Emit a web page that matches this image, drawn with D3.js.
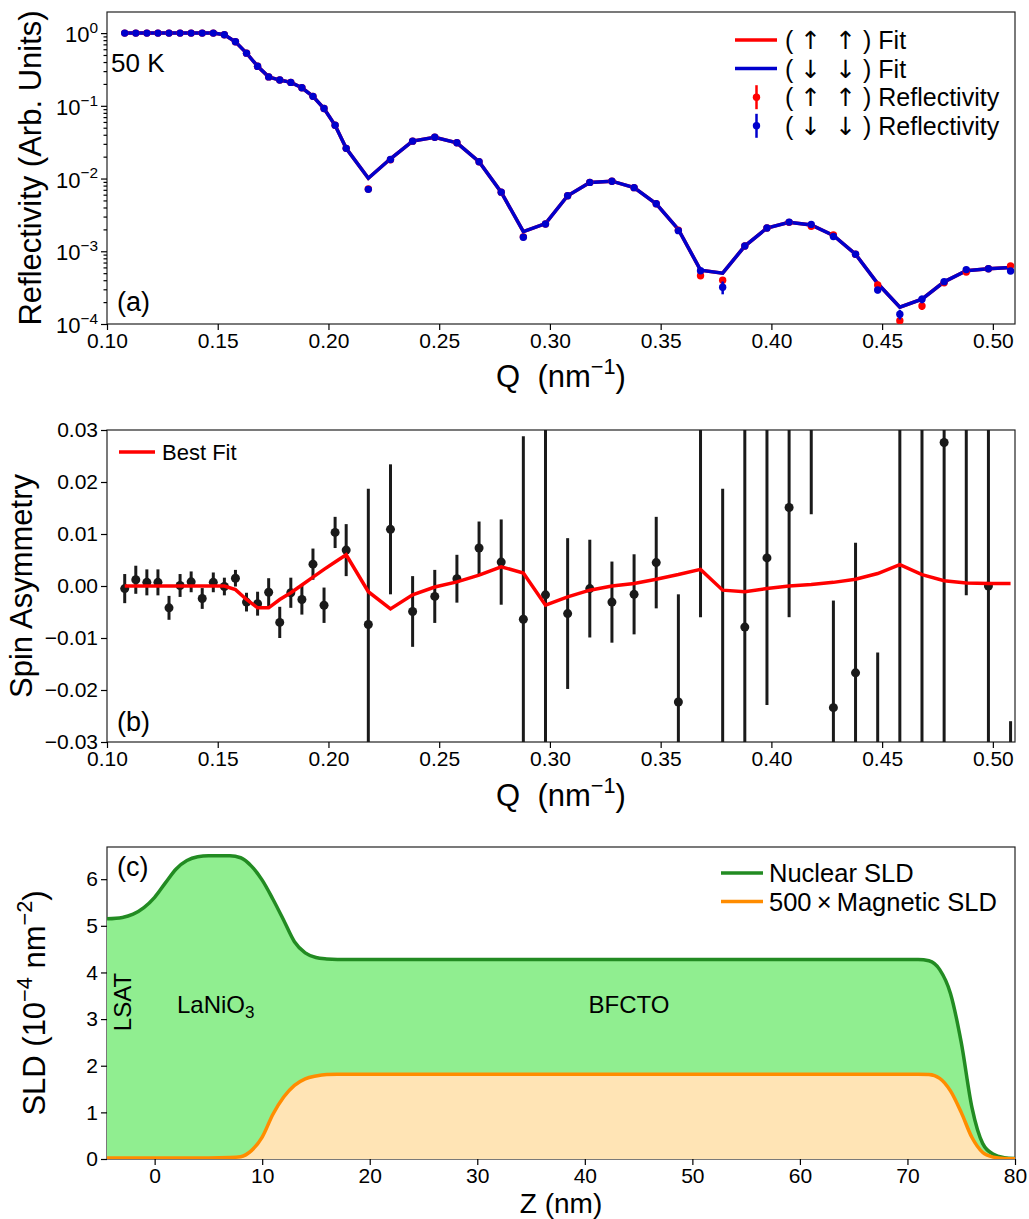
<!DOCTYPE html>
<html>
<head>
<meta charset="utf-8">
<script src="https://cdn.jsdelivr.net/npm/d3@7"></script>
<style>
body { margin: 0; background: #fff; }
text { font-family: "Liberation Sans", Arial, Helvetica, sans-serif; fill: #000; }
.arrow { font-family: "DejaVu Sans", sans-serif; }
</style>
</head>
<body>
<div id="container"></div>
<script>
/* DATA */
// Q grid (nm^-1), shared by panels (a) and (b)
const qVals = [0.108, 0.113, 0.118, 0.123, 0.128, 0.133, 0.138, 0.143, 0.148, 0.153,
  0.158, 0.163, 0.168, 0.173, 0.178, 0.183, 0.188, 0.193, 0.198, 0.203, 0.208,
  0.218, 0.228, 0.238, 0.248, 0.258, 0.268, 0.278, 0.288, 0.298, 0.308, 0.318,
  0.328, 0.338, 0.348, 0.358, 0.368, 0.378, 0.388, 0.398, 0.408, 0.418, 0.428,
  0.438, 0.448, 0.458, 0.468, 0.478, 0.488, 0.498, 0.508];

// (a) reflectivity, up-up (red) and down-down (blue)
const reflUp = [1.0, 1.0, 1.0, 1.0, 1.0, 1.0, 1.0, 1.0, 1.0, 0.95,
  0.76, 0.53, 0.35, 0.25, 0.226, 0.21, 0.177, 0.135, 0.092, 0.054, 0.026,
  0.0072, 0.0181, 0.0327, 0.037, 0.031, 0.017, 0.0065, 0.00158, 0.00237, 0.0058, 0.00885,
  0.0092, 0.0075, 0.0045, 0.00195, 0.00046, 0.0004, 0.00118, 0.00209, 0.0025, 0.0022, 0.00168,
  0.00091, 0.000343, 0.000111, 0.000177, 0.00037, 0.00052, 0.000575, 0.00063];
const reflDown = [1.0, 1.0, 1.0, 1.0, 1.0, 1.0, 1.0, 1.0, 1.0, 0.95,
  0.76, 0.53, 0.35, 0.25, 0.226, 0.21, 0.177, 0.135, 0.092, 0.054, 0.026,
  0.0071, 0.0183, 0.0327, 0.037, 0.031, 0.017, 0.0065, 0.00156, 0.00237, 0.0058, 0.00885,
  0.0092, 0.0075, 0.0045, 0.00192, 0.00054, 0.00032, 0.00118, 0.00209, 0.00252, 0.00234, 0.0016,
  0.00091, 0.000293, 0.000136, 0.000219, 0.000382, 0.00056, 0.000575, 0.000535];
// relative errors
const errUp = [0.01, 0.01, 0.01, 0.01, 0.01, 0.01, 0.01, 0.01, 0.01, 0.01,
  0.01, 0.01, 0.01, 0.01, 0.01, 0.01, 0.01, 0.01, 0.01, 0.01, 0.01,
  0.03, 0.02, 0.02, 0.02, 0.02, 0.02, 0.03, 0.05, 0.04, 0.03, 0.03,
  0.03, 0.03, 0.03, 0.05, 0.08, 0.1, 0.05, 0.04, 0.04, 0.04, 0.05,
  0.06, 0.1, 0.15, 0.12, 0.08, 0.07, 0.07, 0.07];
const errDown = [0.01, 0.01, 0.01, 0.01, 0.01, 0.01, 0.01, 0.01, 0.01, 0.01,
  0.01, 0.01, 0.01, 0.01, 0.01, 0.01, 0.01, 0.01, 0.01, 0.01, 0.01,
  0.03, 0.02, 0.02, 0.02, 0.02, 0.02, 0.03, 0.05, 0.04, 0.03, 0.03,
  0.03, 0.03, 0.03, 0.05, 0.08, 0.2, 0.05, 0.04, 0.04, 0.04, 0.05,
  0.06, 0.1, 0.15, 0.12, 0.08, 0.07, 0.07, 0.07];
const fitUp = [1.0, 1.0, 1.0, 1.0, 1.0, 1.0, 1.0, 1.0, 1.0, 0.95,
  0.76, 0.53, 0.35, 0.25, 0.226, 0.21, 0.177, 0.135, 0.092, 0.054, 0.026,
  0.0101, 0.0187, 0.0327, 0.037, 0.031, 0.017, 0.0065, 0.00186, 0.0024, 0.0058, 0.00885,
  0.0092, 0.0075, 0.0045, 0.002, 0.00055, 0.0005, 0.00118, 0.00209, 0.0025, 0.0023, 0.00165,
  0.00091, 0.00036, 0.00017, 0.00022, 0.00038, 0.00054, 0.000575, 0.0006];
const fitDown = [1.0, 1.0, 1.0, 1.0, 1.0, 1.0, 1.0, 1.0, 1.0, 0.95,
  0.76, 0.53, 0.35, 0.25, 0.226, 0.21, 0.177, 0.135, 0.092, 0.054, 0.026,
  0.0101, 0.0187, 0.0327, 0.037, 0.031, 0.017, 0.0065, 0.00186, 0.0024, 0.0058, 0.00885,
  0.0092, 0.0075, 0.0045, 0.002, 0.00055, 0.0005, 0.00118, 0.00209, 0.0025, 0.0023, 0.00165,
  0.00091, 0.00036, 0.00017, 0.00022, 0.00038, 0.00054, 0.000575, 0.0006];

// (b) spin asymmetry, its error and the best fit
const asym = [-0.0005, 0.0012, 0.0007, 0.0007, -0.0042, 0.0001, 0.0008, -0.0024, 0.0007, -0.0001,
  0.0015, -0.0031, -0.0034, -0.0012, -0.0070, -0.0013, -0.0026, 0.0042, -0.0037, 0.0103, 0.0069,
  -0.0074, 0.0109, -0.0049, -0.0020, 0.0014, 0.0073, 0.0046, -0.0064, -0.0017, -0.0053, -0.0005,
  -0.0031, -0.0016, 0.0045, -0.0223, 0.0340, -0.0340, -0.0079, 0.0054, 0.0151, 0.0450, -0.0234,
  -0.0167, -0.0450, 0.0350, -0.0400, 0.0276, 0.0350, 0.0000, -0.0500];
const asymErr = [0.0028, 0.0027, 0.0025, 0.0025, 0.0023, 0.0022, 0.0020, 0.0020, 0.0019, 0.0017,
  0.0016, 0.0018, 0.0023, 0.0027, 0.0030, 0.0029, 0.0029, 0.0030, 0.0034, 0.0030, 0.0050,
  0.0261, 0.0125, 0.0068, 0.0051, 0.0046, 0.0051, 0.0082, 0.0352, 0.0400, 0.0145, 0.0094,
  0.0078, 0.0077, 0.0088, 0.0207, 0.0400, 0.0527, 0.0450, 0.0283, 0.0211, 0.0312, 0.0206,
  0.0250, 0.0322, 0.0700, 0.0800, 0.0650, 0.0368, 0.0400, 0.0240];
const asymFit = [0, 0, 0, 0, 0, 0, 0, 0, 0, 0,
  -0.0007, -0.0026, -0.0042, -0.0042, -0.0026, -0.0013, 0.0002, 0.0017, 0.0032, 0.0046, 0.0060,
  -0.0011, -0.0044, -0.0017, -0.0002, 0.0008, 0.0021, 0.0037, 0.0025, -0.0037, -0.0021, -0.0008,
  0.0000, 0.0005, 0.0013, 0.0022, 0.0032, -0.0008, -0.0011, -0.0005, 0.0000, 0.0003, 0.0007,
  0.0013, 0.0024, 0.0041, 0.0022, 0.0010, 0.0006, 0.0005, 0.0005];

// (c) SLD depth profiles
const zNuc = [-4.43, -3, -2, -1, 0, 1, 2, 3, 4, 5, 6, 7, 8, 9, 10, 11, 12, 13, 14, 15, 16, 17, 20,
  30, 40, 50, 60, 70, 71, 72, 73, 74, 75, 76, 77, 78, 79, 80];
const sldNuc = [5.15, 5.18, 5.25, 5.39, 5.61, 5.92, 6.22, 6.40, 6.48, 6.50, 6.50, 6.50, 6.46, 6.28,
  5.98, 5.57, 5.12, 4.66, 4.42, 4.32, 4.29, 4.28, 4.28,
  4.28, 4.28, 4.28, 4.28, 4.28, 4.28, 4.25, 4.06, 3.55, 2.50, 1.10, 0.33, 0.10, 0.03, 0.01];
const zMag = [-4.43, 0, 5, 7, 8, 9, 10, 11, 12, 13, 14, 15, 16, 17, 20,
  30, 40, 50, 60, 70, 71, 72, 73, 74, 75, 76, 77, 78, 79, 80];
const sldMag = [0.02, 0.02, 0.02, 0.03, 0.05, 0.18, 0.47, 0.96, 1.33, 1.58, 1.72, 1.78, 1.81, 1.815, 1.815,
  1.815, 1.815, 1.815, 1.815, 1.815, 1.815, 1.81, 1.73, 1.46, 1.00, 0.46, 0.14, 0.04, 0.01, 0.005];

const qTicks = [0.10, 0.15, 0.20, 0.25, 0.30, 0.35, 0.40, 0.45, 0.50];
const reflTicks = [1, 0.1, 0.01, 0.001, 0.0001];
const asymTicks = [-0.03, -0.02, -0.01, 0.00, 0.01, 0.02, 0.03];
const zTicks = [0, 10, 20, 30, 40, 50, 60, 70, 80];
const sldTicks = [0, 1, 2, 3, 4, 5, 6];

/* CONSTANTS AND GLOBALS */
const width = 1029, height = 1219;
const left = 107, right = 1015;
const tickFont = 21, titleFont = 31;
const red = "#ff0000", blue = "#0000cd";

const svg = d3.select("#container").append("svg")
  .attr("width", width)
  .attr("height", height);

// text with superscript parts: [[string, isSup], ...]
function richText(g, parts, fs) {
  const t = g.append("text").attr("font-size", fs).style("white-space", "pre");
  let up = false;
  parts.forEach(([s, sup]) => {
    const sp = t.append("tspan").text(s);
    if (sup) {
      sp.attr("font-size", fs * 0.7);
      if (!up) { sp.attr("dy", -0.42 * fs); up = true; }
    } else if (up) {
      sp.attr("dy", 0.42 * fs); up = false;
    }
  });
  return t;
}

function frame(top, bottom, id) {
  svg.append("rect")
    .attr("x", left).attr("y", top)
    .attr("width", right - left).attr("height", bottom - top)
    .attr("fill", "none").attr("stroke", "#222").attr("stroke-width", 1.2);
  svg.append("clipPath").attr("id", id)
    .append("rect").attr("x", left).attr("y", top)
    .attr("width", right - left).attr("height", bottom - top);
}

function styleAxis(g) {
  g.select(".domain").remove();
  g.selectAll(".tick line").attr("stroke", "#000").attr("stroke-width", 1.2);
  g.selectAll(".tick text").attr("font-size", tickFont)
    .attr("font-family", "'Liberation Sans', Arial, sans-serif").attr("fill", "#000");
}

/* SCALES */
const xQ = d3.scaleLinear().domain([0.1, 0.51]).range([left, right]);

const yA = d3.scaleLog().domain([1e-4, 1.95]).range([324, 12]);
const yB = d3.scaleLinear().domain([-0.03, 0.03]).range([742, 430]);

const xC = d3.scaleLinear().domain([-4.43, 80]).range([left, right]);
const yC = d3.scaleLinear().domain([0, 6.69]).range([1159, 847]);

/* PANEL (a) */
frame(12, 324, "clipA");
const gA = svg.append("g").attr("clip-path", "url(#clipA)");

const lineA = data => d3.line()
  .x((d, i) => xQ(qVals[i]))
  .y(d => yA(d))(data);

gA.append("path").attr("d", lineA(fitUp))
  .attr("fill", "none").attr("stroke", red).attr("stroke-width", 3.5);
gA.append("path").attr("d", lineA(fitDown))
  .attr("fill", "none").attr("stroke", blue).attr("stroke-width", 3.5);

[[reflUp, errUp, red], [reflDown, errDown, blue]].forEach(([vals, errs, col]) => {
  gA.selectAll(null).data(vals).join("line")
    .attr("x1", (d, i) => xQ(qVals[i])).attr("x2", (d, i) => xQ(qVals[i]))
    .attr("y1", (d, i) => yA(d * (1 + errs[i])))
    .attr("y2", (d, i) => yA(d * (1 - errs[i])))
    .attr("stroke", col).attr("stroke-width", 2.5);
  gA.selectAll(null).data(vals).join("circle")
    .attr("cx", (d, i) => xQ(qVals[i]))
    .attr("cy", d => yA(d))
    .attr("r", 3.7)
    .attr("fill", col);
});

svg.append("g").attr("transform", "translate(0,324)")
  .call(d3.axisBottom(xQ).tickValues(qTicks).tickSize(6).tickFormat(d3.format(".2f")))
  .call(styleAxis);

const minorA = [];
[1e-4, 1e-3, 1e-2, 1e-1, 1].forEach(dec => {
  for (let k = 2; k <= 9; k++) if (dec * k < 1.95) minorA.push(dec * k);
});
svg.append("g").attr("transform", `translate(${left},0)`)
  .call(d3.axisLeft(yA).tickValues(minorA).tickSize(3.5).tickFormat(""))
  .call(styleAxis);
const axA = svg.append("g").attr("transform", `translate(${left},0)`)
  .call(d3.axisLeft(yA).tickValues(reflTicks).tickSize(6).tickFormat(""))
  .call(styleAxis);
reflTicks.forEach(v => {
  const p = Math.round(Math.log10(v));
  richText(axA, [["10", false], [p === 0 ? "0" : "\u2212" + (-p), true]], 22)
    .attr("x", -9).attr("y", yA(v) + 9).attr("text-anchor", "end");
});

svg.append("text").attr("x", 111).attr("y", 72).attr("font-size", 26).text("50 K");
svg.append("text").attr("x", 117).attr("y", 311).attr("font-size", 27).text("(a)");

richText(svg, [["Q  (nm", false], ["\u22121", true], [")", false]], titleFont)
  .attr("x", (left + right) / 2).attr("y", 387).attr("text-anchor", "middle");
svg.append("text")
  .attr("transform", `translate(41,${(12 + 324) / 2}) rotate(-90)`)
  .attr("text-anchor", "middle").attr("font-size", titleFont)
  .text("Reflectivity (Arb. Units)");

// legend (a)
const legA = [
  { arrow: "\u2191", tail: "Fit", col: red, kind: "line" },
  { arrow: "\u2193", tail: "Fit", col: blue, kind: "line" },
  { arrow: "\u2191", tail: "Reflectivity", col: red, kind: "err" },
  { arrow: "\u2193", tail: "Reflectivity", col: blue, kind: "err" }
];
legA.forEach((d, i) => {
  const y = 40 + i * 28.6;
  if (d.kind === "line") {
    svg.append("line").attr("x1", 735).attr("x2", 777).attr("y1", y).attr("y2", y)
      .attr("stroke", d.col).attr("stroke-width", 3.5);
  } else {
    svg.append("line").attr("x1", 756.5).attr("x2", 756.5).attr("y1", y - 12).attr("y2", y + 12)
      .attr("stroke", d.col).attr("stroke-width", 2.5);
    svg.append("circle").attr("cx", 756.5).attr("cy", y).attr("r", 3.7).attr("fill", d.col);
  }
  const t = svg.append("text").attr("x", 785).attr("y", y + 9).attr("font-size", 25)
    .style("white-space", "pre");
  t.append("tspan").text("( ");
  t.append("tspan").attr("class", "arrow").text(d.arrow);
  t.append("tspan").text("  ");
  t.append("tspan").attr("class", "arrow").text(d.arrow);
  t.append("tspan").text(" ) " + d.tail);
});

/* PANEL (b) */
frame(430, 742, "clipB");
const gB = svg.append("g").attr("clip-path", "url(#clipB)");

gB.selectAll(null).data(asym).join("line")
  .attr("x1", (d, i) => xQ(qVals[i])).attr("x2", (d, i) => xQ(qVals[i]))
  .attr("y1", (d, i) => yB(d + asymErr[i]))
  .attr("y2", (d, i) => yB(d - asymErr[i]))
  .attr("stroke", "#1a1a1a").attr("stroke-width", 3);
gB.selectAll(null).data(asym).join("circle")
  .attr("cx", (d, i) => xQ(qVals[i]))
  .attr("cy", d => yB(d))
  .attr("r", 4.5)
  .attr("fill", "#1a1a1a");
gB.append("path")
  .attr("d", d3.line().x((d, i) => xQ(qVals[i])).y(d => yB(d))(asymFit))
  .attr("fill", "none").attr("stroke", red).attr("stroke-width", 3.5);

svg.append("g").attr("transform", "translate(0,742)")
  .call(d3.axisBottom(xQ).tickValues(qTicks).tickSize(6).tickFormat(d3.format(".2f")))
  .call(styleAxis);
svg.append("g").attr("transform", `translate(${left},0)`)
  .call(d3.axisLeft(yB).tickValues(asymTicks).tickSize(6).tickFormat(d3.format(".2f")))
  .call(styleAxis);

svg.append("line").attr("x1", 119).attr("x2", 155).attr("y1", 452).attr("y2", 452)
  .attr("stroke", red).attr("stroke-width", 3.5);
svg.append("text").attr("x", 162).attr("y", 460).attr("font-size", 22).text("Best Fit");
svg.append("text").attr("x", 117).attr("y", 731).attr("font-size", 27).text("(b)");

richText(svg, [["Q  (nm", false], ["\u22121", true], [")", false]], titleFont)
  .attr("x", (left + right) / 2).attr("y", 806).attr("text-anchor", "middle");
svg.append("text")
  .attr("transform", `translate(32,${(430 + 742) / 2}) rotate(-90)`)
  .attr("text-anchor", "middle").attr("font-size", titleFont)
  .text("Spin Asymmetry");

/* PANEL (c) */
frame(847, 1159, "clipC");
const gC = svg.append("g").attr("clip-path", "url(#clipC)");

const areaC = (zs) => d3.area().curve(d3.curveMonotoneX)
  .x((d, i) => xC(zs[i])).y0(yC(0)).y1(d => yC(d));
const lineC = (zs) => d3.line().curve(d3.curveMonotoneX)
  .x((d, i) => xC(zs[i])).y(d => yC(d));

gC.append("path").attr("d", areaC(zNuc)(sldNuc)).attr("fill", "#90ee90");
gC.append("path").attr("d", areaC(zMag)(sldMag)).attr("fill", "#ffe4b5");
gC.append("path").attr("d", lineC(zNuc)(sldNuc))
  .attr("fill", "none").attr("stroke", "#228b22").attr("stroke-width", 3.5);
gC.append("path").attr("d", lineC(zMag)(sldMag))
  .attr("fill", "none").attr("stroke", "#ff8c00").attr("stroke-width", 3.5);

svg.append("g").attr("transform", "translate(0,1159)")
  .call(d3.axisBottom(xC).tickValues(zTicks).tickSize(6).tickFormat(d3.format("d")))
  .call(styleAxis);
svg.append("g").attr("transform", `translate(${left},0)`)
  .call(d3.axisLeft(yC).tickValues(sldTicks).tickSize(6).tickFormat(d3.format("d")))
  .call(styleAxis);

svg.append("text").attr("x", 117).attr("y", 876).attr("font-size", 27).text("(c)");
svg.append("text")
  .attr("transform", "translate(131,1002) rotate(-90)")
  .attr("text-anchor", "middle").attr("font-size", 24).text("LSAT");
const lno = svg.append("text").attr("x", 177).attr("y", 1013).attr("font-size", 24);
lno.append("tspan").text("LaNiO");
lno.append("tspan").attr("font-size", 17).attr("dy", 5).text("3");
svg.append("text").attr("x", 629).attr("y", 1013).attr("font-size", 24)
  .attr("text-anchor", "middle").text("BFCTO");

// legend (c)
[["Nuclear SLD", "#228b22"], ["500\u2009\u00d7\u2009Magnetic SLD", "#ff8c00"]].forEach(([lab, col], i) => {
  const y = 873 + i * 28.5;
  svg.append("line").attr("x1", 721).attr("x2", 763).attr("y1", y).attr("y2", y)
    .attr("stroke", col).attr("stroke-width", 3.5);
  svg.append("text").attr("x", 769).attr("y", y + 9).attr("font-size", 25.5).text(lab);
});

svg.append("text").attr("x", (left + right) / 2).attr("y", 1213)
  .attr("text-anchor", "middle").attr("font-size", 28).text("Z (nm)");
richText(svg, [["SLD (10", false], ["\u22124", true], [" nm", false], ["\u22122", true], [")", false]], titleFont)
  .attr("transform", `translate(45,${(847 + 1159) / 2}) rotate(-90)`)
  .attr("text-anchor", "middle");
</script>
</body>
</html>
